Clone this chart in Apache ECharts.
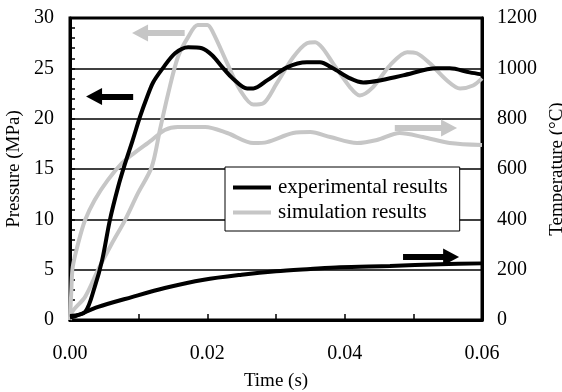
<!DOCTYPE html>
<html>
<head>
<meta charset="utf-8">
<script src="https://cdn.jsdelivr.net/npm/echarts@6/dist/echarts.min.js"></script>
<style>
  html, body { margin: 0; padding: 0; background: #fff; }
  #chart { width: 562px; height: 392px; }
</style>
</head>
<body>
<div id="chart"></div>
<script>
// time (s), pressure (MPa), temperature (°C)
const expPressure = [
  [0, 0.4], [0.0022, 0.8], [0.0036, 3.3], [0.0047, 6.0], [0.0058, 9.9],
  [0.007, 13.2], [0.008, 15.5], [0.0091, 17.8], [0.0102, 20.2], [0.0112, 22.1],
  [0.0121, 23.6], [0.0135, 25.0], [0.0153, 26.5], [0.0172, 27.1], [0.0192, 27.0],
  [0.0207, 26.3], [0.0222, 25.1], [0.0237, 24.0], [0.0258, 23.0], [0.0267, 23.0],
  [0.0287, 23.8], [0.0316, 25.1], [0.0345, 25.6], [0.0364, 25.6], [0.0383, 25.0],
  [0.0408, 24.0], [0.0427, 23.6], [0.0451, 23.8], [0.0485, 24.3], [0.0534, 25.0],
  [0.0553, 25.0], [0.0582, 24.6], [0.06, 24.4]
];
const simPressure = [
  [0, 0], [0.0003, 0.8], [0.0022, 2.3], [0.0041, 5.0], [0.0061, 7.6],
  [0.008, 9.9], [0.0099, 12.6], [0.0119, 15.2], [0.0131, 18.9], [0.0143, 22.5],
  [0.0157, 26.1], [0.0172, 28.1], [0.0186, 29.3], [0.02, 29.3], [0.0208, 28.6],
  [0.0229, 25.5], [0.0248, 22.8], [0.0267, 21.4], [0.0281, 21.5], [0.0301, 23.5],
  [0.0325, 26.1], [0.0345, 27.5], [0.0357, 27.6], [0.0368, 27.0], [0.0383, 25.5],
  [0.0408, 23.1], [0.0422, 22.3], [0.0441, 23.1], [0.0466, 25.3], [0.0491, 26.6],
  [0.0505, 26.5], [0.0524, 25.5], [0.0549, 23.8], [0.0568, 23.0], [0.0587, 23.3],
  [0.06, 24.0]
];
const expTemperature = [
  [0, 10], [0.0007, 14], [0.0041, 52], [0.009, 91], [0.0138, 127],
  [0.0195, 160], [0.025, 180], [0.03, 194], [0.035, 203], [0.0393, 210],
  [0.0466, 215], [0.0539, 222], [0.06, 225]
];
const simTemperature = [
  [0, 0], [0.0002, 120], [0.0004, 211], [0.0012, 306], [0.0022, 397],
  [0.0036, 477], [0.0055, 556], [0.0076, 624], [0.009, 656], [0.0119, 715],
  [0.0138, 755], [0.0157, 767], [0.0197, 767], [0.0229, 743], [0.0267, 703],
  [0.0287, 707], [0.0325, 743], [0.035, 747], [0.0379, 727], [0.0418, 703],
  [0.0447, 715], [0.048, 743], [0.0514, 727], [0.0553, 703], [0.06, 695]
];
// arrows: [tStart, tEnd, value]
const pressureArrowExp = [0.0092, 0.0035, 22.2];
const pressureArrowSim = [0.0167, 0.0102, 28.5];
const tempArrowExp = [0.0485, 0.0555, 250];
const tempArrowSim = [0.0473, 0.0552, 763];

const BLACK = '#000';
const GRAY = '#c6c6c6';
const FONT = 'Liberation Serif';

function arrow(a, color) {
  return {
    silent: true,
    symbol: ['none', 'triangle'],
    symbolSize: [17, 16],
    label: { show: false },
    emphasis: { disabled: true },
    lineStyle: { color: color, width: 6, type: 'solid' },
    data: [[{ coord: [a[0], a[2]] }, { coord: [a[1], a[2]] }]]
  };
}

function curve(name, data, color, yAxisIndex, arr) {
  return {
    name: name,
    type: 'line',
    yAxisIndex: yAxisIndex,
    data: data,
    smooth: 0.3,
    symbol: 'none',
    lineStyle: { color: color, width: 4 },
    itemStyle: { color: color },
    z: color === BLACK ? 3 : 2,
    markLine: arrow(arr, color)
  };
}

const chart = echarts.init(document.getElementById('chart'), null, { renderer: 'canvas' });
chart.setOption({
  animation: false,
  textStyle: { fontFamily: FONT, color: BLACK },
  grid: {
    left: 70, right: 80, top: 18, bottom: 72,
    outerBoundsMode: 'none',
    containLabel: false,
    show: true, borderColor: BLACK, borderWidth: 3
  },
  legend: {
    orient: 'vertical',
    left: 225, top: 167,
    width: 253,
    padding: [10, 12, 8, 8],
    itemGap: 4,
    itemWidth: 38, itemHeight: 4,
    icon: 'rect',
    backgroundColor: '#fff',
    borderColor: BLACK, borderWidth: 1,
    textStyle: { fontFamily: FONT, fontSize: 21, color: BLACK, padding: [0, 0, 0, 2] },
    data: ['experimental results', 'simulation results']
  },
  xAxis: {
    type: 'value',
    min: 0, max: 0.06, interval: 0.02,
    name: 'Time (s)',
    nameLocation: 'middle',
    nameGap: 52,
    nameTextStyle: { fontFamily: FONT, fontSize: 19, color: BLACK },
    axisLine: { lineStyle: { color: BLACK, width: 3 } },
    axisTick: { inside: true, length: 6, lineStyle: { color: BLACK, width: 1.5 } },
    minorTick: { show: true, splitNumber: 2, length: 6, lineStyle: { color: BLACK, width: 1.5 } },
    axisLabel: { fontSize: 20, color: BLACK, margin: 24, formatter: v => v.toFixed(2) },
    splitLine: { show: false }
  },
  yAxis: [
    {
      type: 'value',
      min: 0, max: 30, interval: 5,
      name: 'Pressure (MPa)',
      nameLocation: 'middle',
      nameGap: 46,
      nameTextStyle: { fontFamily: FONT, fontSize: 19, color: BLACK },
      axisLine: { show: true, lineStyle: { color: BLACK, width: 3 } },
      axisTick: { inside: true, length: 5, lineStyle: { color: BLACK, width: 1.5 } },
      minorTick: { show: true, splitNumber: 5, length: 5, lineStyle: { color: BLACK, width: 1.5 } },
      axisLabel: { fontSize: 20, color: BLACK, margin: 16 },
      splitLine: { show: true, lineStyle: { color: BLACK, width: 1.5 } }
    },
    {
      type: 'value',
      min: 0, max: 1200, interval: 200,
      name: 'Temperature (°C)',
      nameLocation: 'middle',
      nameGap: 58,
      nameRotate: 90,
      nameTextStyle: { fontFamily: FONT, fontSize: 19, color: BLACK },
      axisLine: { show: true, lineStyle: { color: BLACK, width: 3 } },
      axisTick: { show: false },
      axisLabel: { fontSize: 20, color: BLACK, margin: 15, formatter: v => String(v) },
      splitLine: { show: false }
    }
  ],
  series: [
    curve('simulation results', simTemperature, GRAY, 1, tempArrowSim),
    curve('simulation results', simPressure, GRAY, 0, pressureArrowSim),
    curve('experimental results', expTemperature, BLACK, 1, tempArrowExp),
    curve('experimental results', expPressure, BLACK, 0, pressureArrowExp)
  ]
});
</script>
</body>
</html>
